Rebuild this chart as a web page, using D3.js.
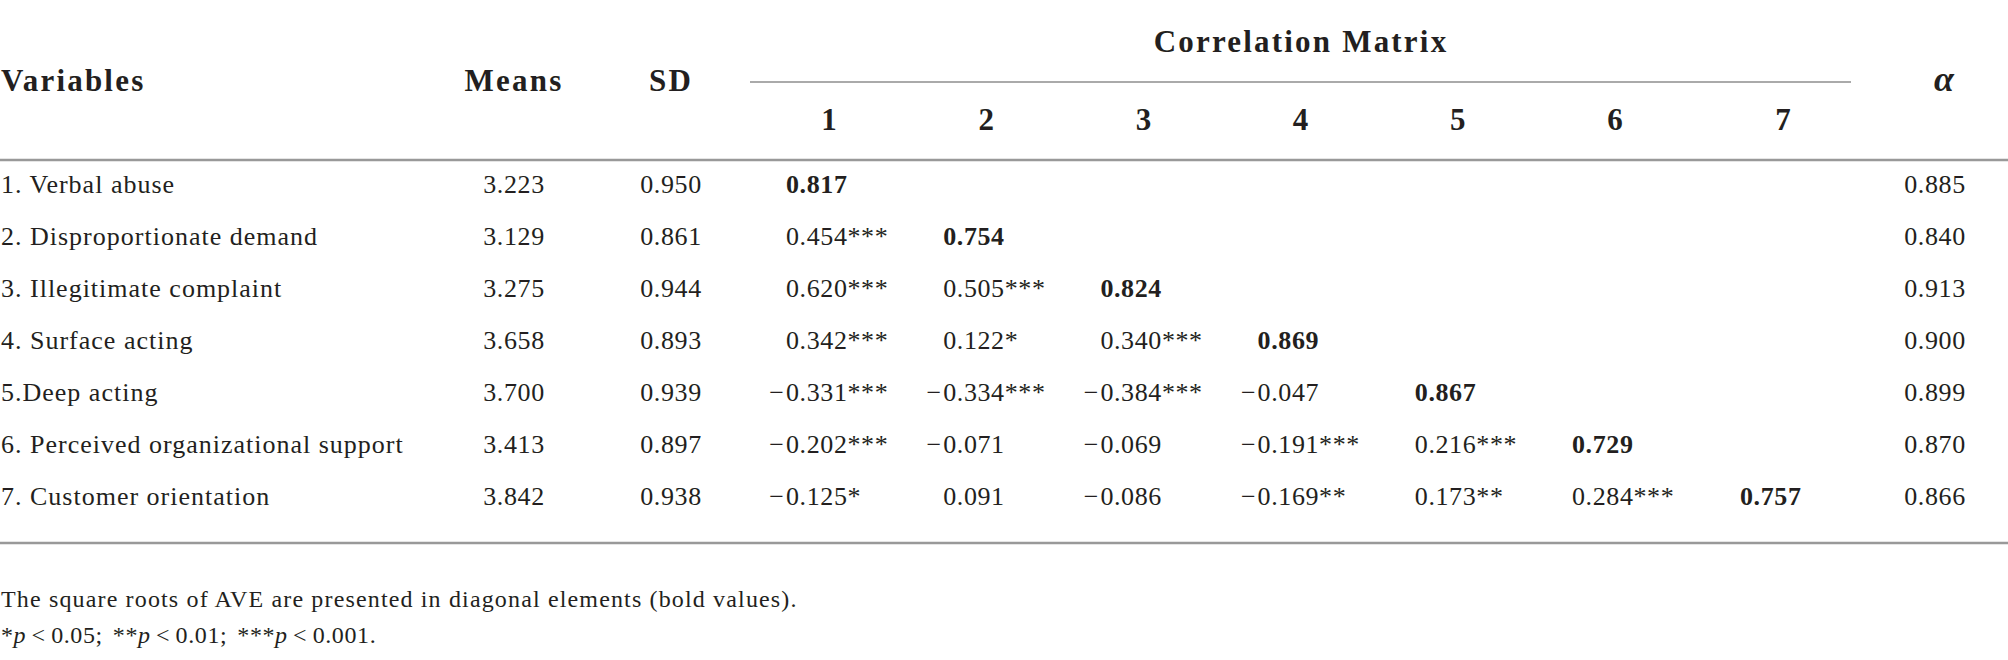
<!DOCTYPE html>
<html>
<head>
<meta charset="utf-8">
<script src="https://cdn.jsdelivr.net/npm/d3@7"></script>
<style>
  body { margin: 0; background: #fff; }
  svg text { font-family: "Liberation Serif", "Times New Roman", serif; fill: #231f20; }
</style>
</head>
<body>
<div id="table"></div>
<script>
// table data
var variables = ["1. Verbal abuse", "2. Disproportionate demand", "3. Illegitimate complaint",
    "4. Surface acting", "5.Deep acting", "6. Perceived organizational support", "7. Customer orientation"];
var means = ["3.223", "3.129", "3.275", "3.658", "3.700", "3.413", "3.842"];
var sds = ["0.950", "0.861", "0.944", "0.893", "0.939", "0.897", "0.938"];
var alphas = ["0.885", "0.840", "0.913", "0.900", "0.899", "0.870", "0.866"];
var colNums = [1, 2, 3, 4, 5, 6, 7];
// lower triangle, diagonal = sqrt(AVE)
var corr = [
    ["0.817"],
    ["0.454***", "0.754"],
    ["0.620***", "0.505***", "0.824"],
    ["0.342***", "0.122*", "0.340***", "0.869"],
    ["\u22120.331***", "\u22120.334***", "\u22120.384***", "\u22120.047", "0.867"],
    ["\u22120.202***", "\u22120.071", "\u22120.069", "\u22120.191***", "0.216***", "0.729"],
    ["\u22120.125*", "0.091", "\u22120.086", "\u22120.169**", "0.173**", "0.284***", "0.757"]
];
var headers = ["Variables", "Means", "SD"];
var note1 = "The square roots of AVE are presented in diagonal elements (bold values).";
var pvals = [["*", "0.05;"], ["**", "0.01;"], ["***", "0.001."]];

main();

function main() {
    var W = 2008, H = 660;
    var svg = d3.select("#table").append("svg")
        .attr("width", W)
        .attr("height", H);

    var y = d3.scaleLinear().domain([0, 6]).range([193, 505]);
    var xCol = d3.scaleLinear().domain([1, 6, 7]).range([786, 1572, 1740]);
    var xMean = 514, xSD = 671, xAlpha = 1935;

    var hdrFont = 31, hdrLs = 2.2;
    var bodyFont = 26, bodyLs = 0.6;

    function hdr(sel) {
        return sel.attr("font-size", hdrFont).attr("font-weight", "bold").attr("letter-spacing", hdrLs);
    }

    // header row
    hdr(svg.append("text").attr("x", 1).attr("y", 91)).text(headers[0]);
    hdr(svg.append("text").attr("x", xMean).attr("y", 91).attr("text-anchor", "middle")).text(headers[1]);
    hdr(svg.append("text").attr("x", xSD).attr("y", 91).attr("text-anchor", "middle")).text(headers[2]);
    hdr(svg.append("text").attr("x", 1301).attr("y", 52).attr("text-anchor", "middle")).text("Correlation Matrix");
    svg.append("text").attr("x", 1944).attr("y", 91).attr("text-anchor", "middle")
        .attr("font-size", hdrFont + 5).attr("font-weight", "bold").attr("font-style", "italic")
        .text("\u03b1");

    svg.selectAll(".colnum")
        .data(colNums)
        .enter().append("text")
        .attr("class", "colnum")
        .attr("x", function (d) { return xCol(d) + 43; })
        .attr("y", 130)
        .attr("text-anchor", "middle")
        .attr("font-size", hdrFont).attr("font-weight", "bold")
        .text(function (d) { return d; });

    // rules
    svg.append("line").attr("x1", 750).attr("x2", 1851).attr("y1", 82).attr("y2", 82)
        .attr("stroke", "#aaa").attr("stroke-width", 2);
    svg.append("line").attr("x1", 0).attr("x2", W).attr("y1", 160).attr("y2", 160)
        .attr("stroke", "#999").attr("stroke-width", 2.5);
    svg.append("line").attr("x1", 0).attr("x2", W).attr("y1", 543).attr("y2", 543)
        .attr("stroke", "#999").attr("stroke-width", 2.5);

    // body rows
    var rows = svg.selectAll(".row")
        .data(variables)
        .enter().append("g")
        .attr("class", "row")
        .attr("transform", function (d, i) { return "translate(0," + y(i) + ")"; });

    rows.append("text").attr("x", 1)
        .attr("font-size", bodyFont).attr("letter-spacing", 1.0)
        .text(function (d) { return d; });
    rows.append("text").attr("x", xMean).attr("text-anchor", "middle")
        .attr("font-size", bodyFont).attr("letter-spacing", bodyLs)
        .text(function (d, i) { return means[i]; });
    rows.append("text").attr("x", xSD).attr("text-anchor", "middle")
        .attr("font-size", bodyFont).attr("letter-spacing", bodyLs)
        .text(function (d, i) { return sds[i]; });
    rows.append("text").attr("x", xAlpha).attr("text-anchor", "middle")
        .attr("font-size", bodyFont).attr("letter-spacing", bodyLs)
        .text(function (d, i) { return alphas[i]; });

    rows.each(function (d, i) {
        var g = d3.select(this);
        var cells = g.selectAll(".cell")
            .data(corr[i])
            .enter().append("g")
            .attr("class", "cell")
            .attr("transform", function (v, j) { return "translate(" + xCol(j + 1) + ",0)"; });

        cells.append("text")
            .attr("font-size", bodyFont).attr("letter-spacing", bodyLs)
            .attr("font-weight", function (v, j) { return j == i ? "bold" : "normal"; })
            .text(function (v) { return v.replace("\u2212", ""); });
        // minus sign hangs left of the aligned digits
        cells.filter(function (v) { return v.charAt(0) == "\u2212"; })
            .append("text")
            .attr("x", -2)
            .attr("text-anchor", "end")
            .attr("font-size", bodyFont)
            .text("\u2212");
    });

    // notes
    svg.append("text").attr("x", 1).attr("y", 607)
        .attr("font-size", 24).attr("letter-spacing", 1.15)
        .text(note1);

    var n2 = svg.append("text").attr("x", 1).attr("y", 643)
        .attr("font-size", 24).attr("letter-spacing", 0.6);
    pvals.forEach(function (p, k) {
        n2.append("tspan").attr("dx", k == 0 ? 0 : 10).text(p[0]);
        n2.append("tspan").attr("font-style", "italic").text("p");
        n2.append("tspan").text("\u2009<\u2009" + p[1]);
    });
}
</script>
</body>
</html>
